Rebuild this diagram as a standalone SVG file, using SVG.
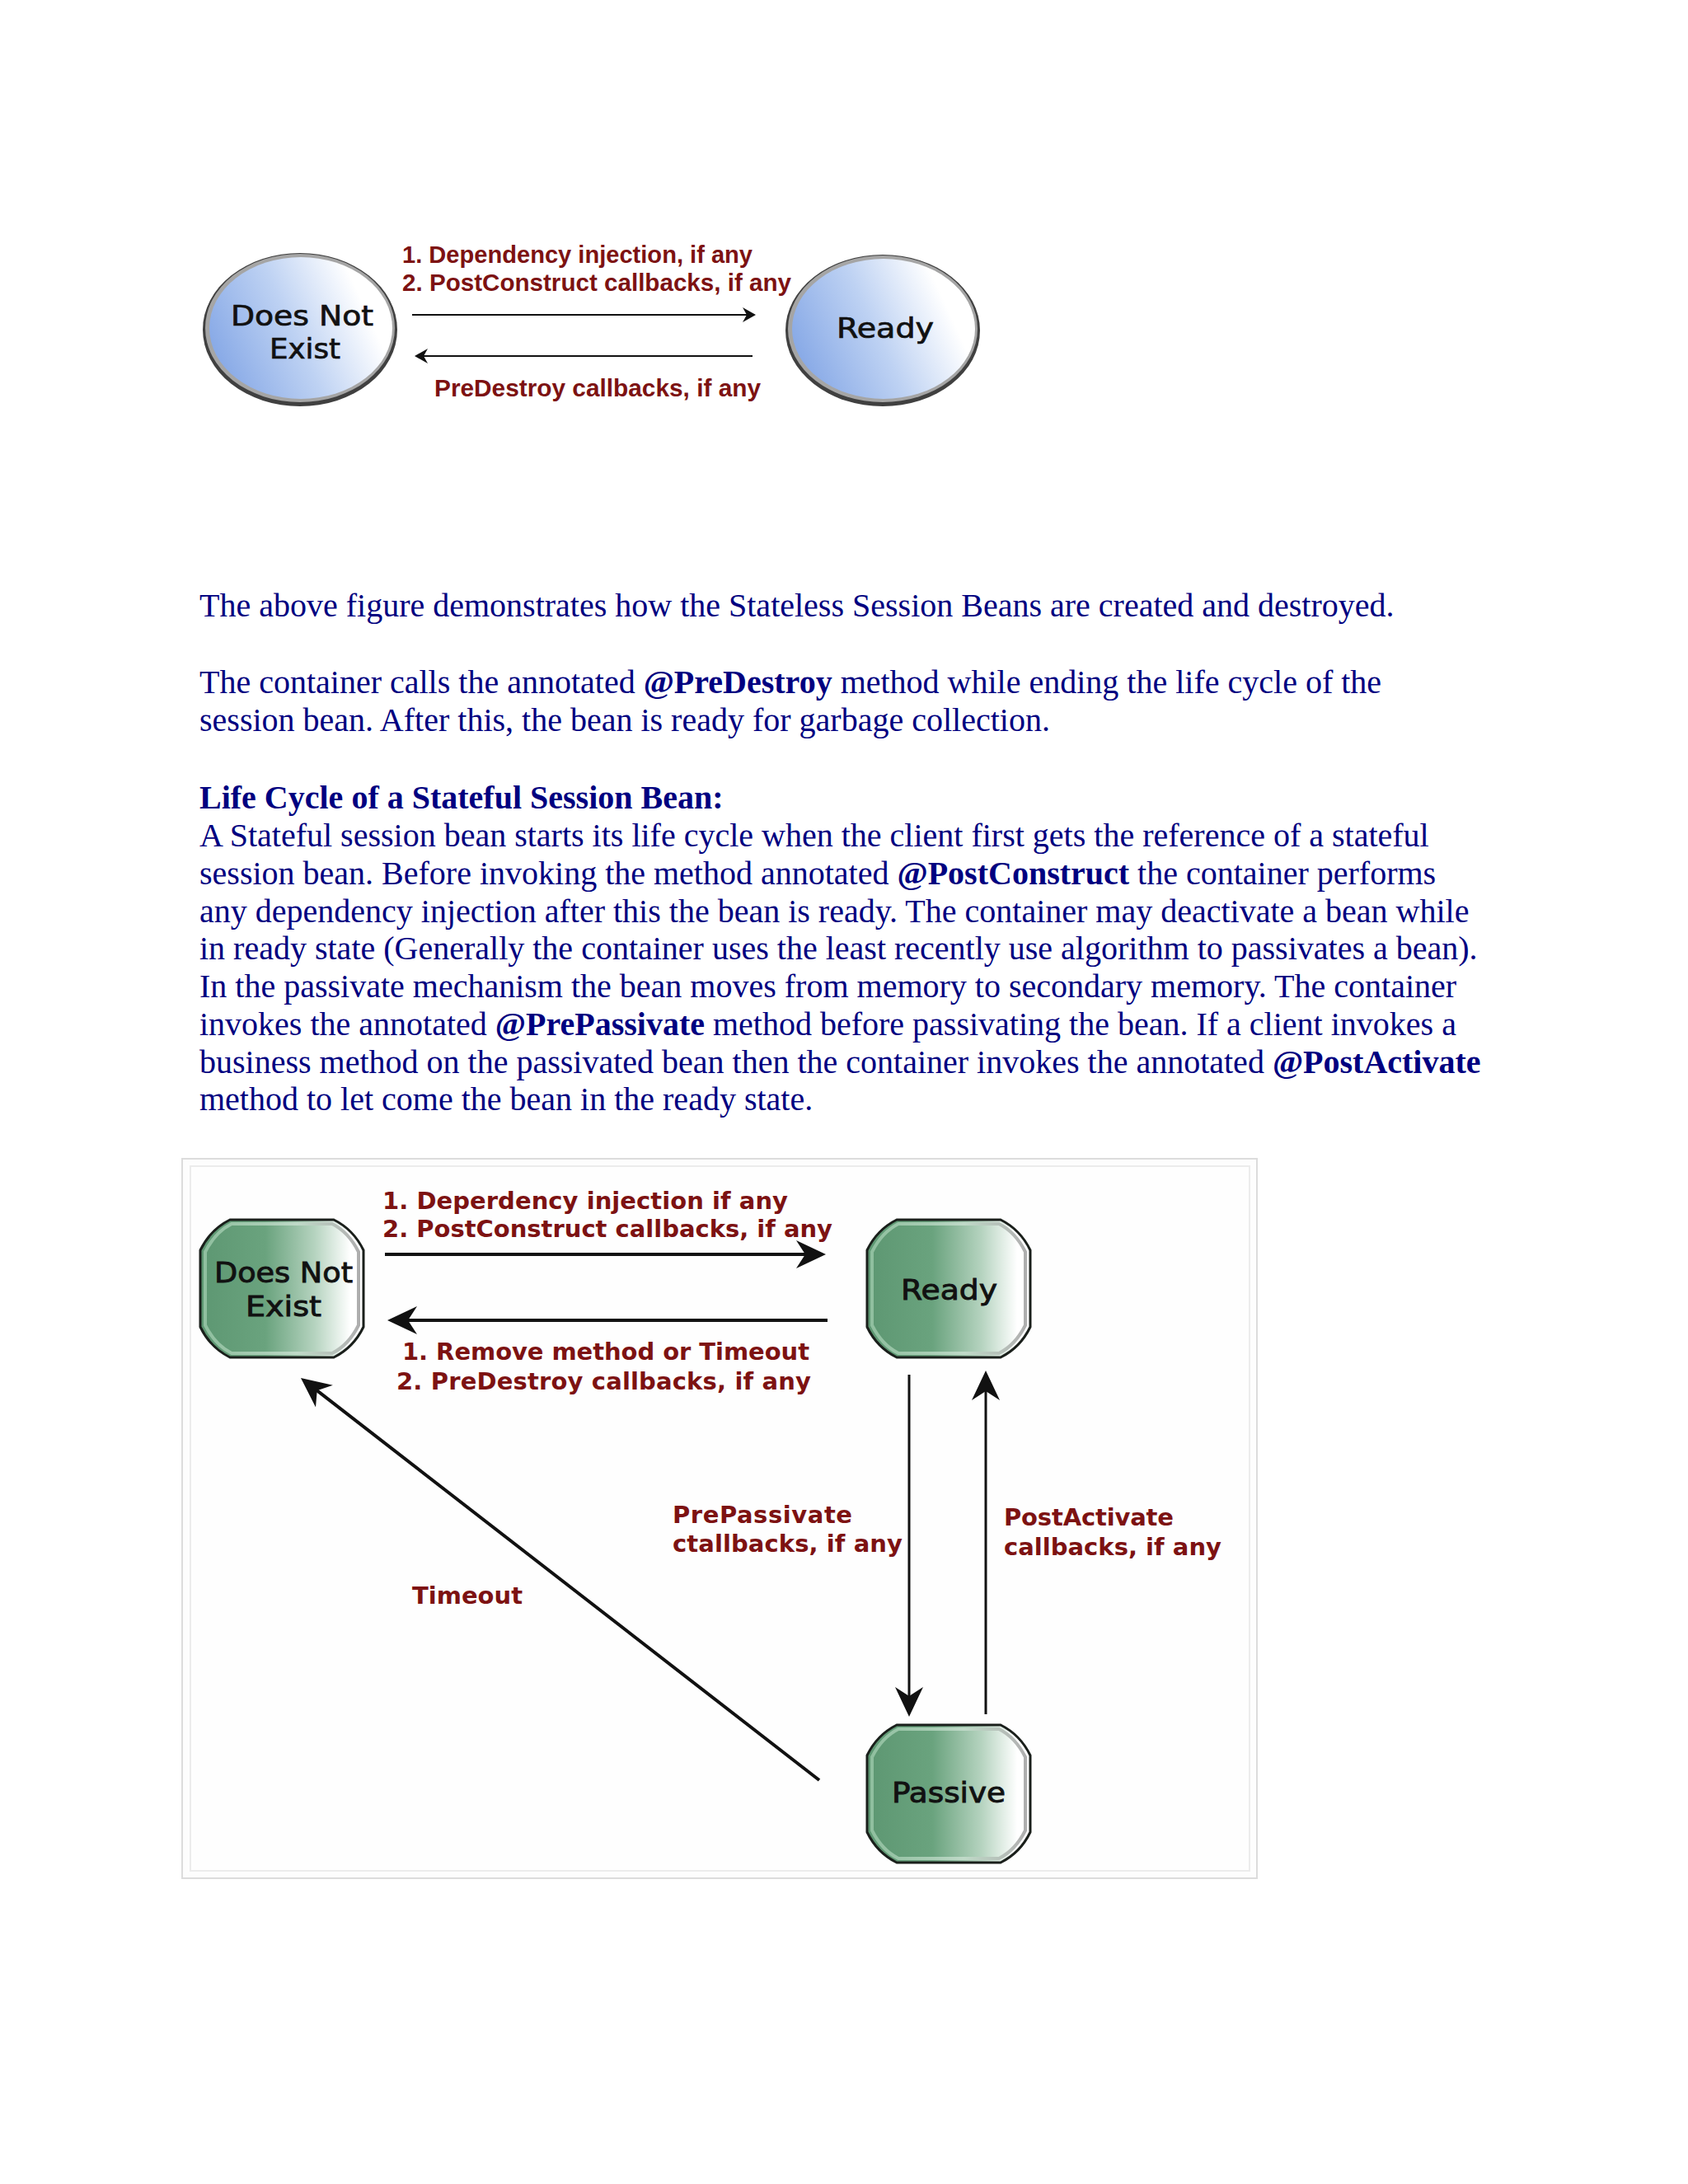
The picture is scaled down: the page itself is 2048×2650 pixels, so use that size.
<svg xmlns="http://www.w3.org/2000/svg" width="2048" height="2650" viewBox="0 0 2048 2650">
<style>
.para{font-family:"Liberation Serif","Times New Roman",serif;font-size:40px;fill:#000080}
.b{font-weight:bold}
.tlab{font-family:"Liberation Sans",Arial,sans-serif;font-weight:bold;font-size:29px;fill:#7d1212}
.blab{font-family:"DejaVu Sans",Verdana,sans-serif;font-weight:bold;font-size:29px;fill:#7d1212}
.node{font-family:"DejaVu Sans",Verdana,sans-serif;font-size:34px;fill:#111;stroke:#111;stroke-width:0.9}
.tnode{font-family:"DejaVu Sans",Verdana,sans-serif;font-size:33px;fill:#111;stroke:#111;stroke-width:0.7}
.thin{stroke:#111;stroke-width:2;fill:none}
.thick{stroke:#111;stroke-width:4;fill:none}
.med{stroke:#111;stroke-width:3;fill:none}
</style>
<defs>
<linearGradient id="blue" x1="0" y1="0.65" x2="1" y2="0.3">
<stop offset="0" stop-color="#86a8e6"/>
<stop offset="0.45" stop-color="#bed2f3"/>
<stop offset="0.85" stop-color="#ffffff"/>
</linearGradient>
<linearGradient id="green" x1="0" y1="0" x2="1" y2="0">
<stop offset="0" stop-color="#5d9772"/>
<stop offset="0.4" stop-color="#6aa37e"/>
<stop offset="0.7" stop-color="#b5d3bf"/>
<stop offset="0.92" stop-color="#ffffff"/>
</linearGradient>
<linearGradient id="bevel" x1="0" y1="0" x2="1" y2="0">
<stop offset="0" stop-color="#9cc9aa"/>
<stop offset="0.6" stop-color="#c9e0d0"/>
<stop offset="1" stop-color="#9a9a9a"/>
</linearGradient>
<path id="barrel" d="M36,0 H162 Q186,12 198,37 V130 Q186,155 162,167 H36 Q12,155 0,130 V37 Q12,12 36,0 Z"/>
<path id="barrelIn" d="M38,5 H160 Q180,15 192,39 V128 Q180,152 160,162 H38 Q18,152 6,128 V39 Q18,15 38,5 Z"/>
<marker id="big" markerUnits="userSpaceOnUse" markerWidth="36" markerHeight="34" refX="28" refY="17" orient="auto">
<path d="M36,17 L0,0 L11,17 L0,34 Z" fill="#111"/>
</marker>
<marker id="small" markerUnits="userSpaceOnUse" markerWidth="16" markerHeight="18" refX="12" refY="9" orient="auto">
<path d="M16,9 L0,0 L5,9 L0,18 Z" fill="#111"/>
</marker>
</defs>
<rect x="0" y="0" width="2048" height="2650" fill="#ffffff"/>

<!-- Top diagram -->
<g id="top-dne">
<ellipse cx="364" cy="400" rx="118" ry="93" fill="#404040"/>
<ellipse cx="364" cy="398" rx="115" ry="90" fill="#a5a5a5"/>
<ellipse cx="365" cy="398" rx="111" ry="86" fill="url(#blue)"/>
<text class="tnode" x="280" y="395" textLength="173" lengthAdjust="spacingAndGlyphs">Does Not</text>
<text class="tnode" x="327" y="435" textLength="86" lengthAdjust="spacingAndGlyphs">Exist</text>
</g>
<g id="top-ready">
<ellipse cx="1071" cy="401" rx="118" ry="92" fill="#404040"/>
<ellipse cx="1071" cy="399" rx="115" ry="89" fill="#a5a5a5"/>
<ellipse cx="1072" cy="399" rx="111" ry="85" fill="url(#blue)"/>
<text class="tnode" x="1015" y="410" textLength="118" lengthAdjust="spacingAndGlyphs">Ready</text>
</g>
<g id="top-connectors">
<line class="thin" x1="500" y1="382" x2="913" y2="382" marker-end="url(#small)"/>
<line class="thin" x1="913" y1="432" x2="507" y2="432" marker-end="url(#small)"/>
<text class="tlab" x="488" y="319" textLength="425" lengthAdjust="spacingAndGlyphs">1. Dependency injection, if any</text>
<text class="tlab" x="488" y="353" textLength="472" lengthAdjust="spacingAndGlyphs">2. PostConstruct callbacks, if any</text>
<text class="tlab" x="527" y="481" textLength="396" lengthAdjust="spacingAndGlyphs">PreDestroy callbacks, if any</text>
</g>

<!-- Paragraph text -->
<g id="paragraphs">
<text class="para" x="242" y="748">The above figure demonstrates how the Stateless Session Beans are created and destroyed.</text>
<text class="para" x="242" y="841">The container calls the annotated <tspan class="b">@PreDestroy</tspan> method while ending the life cycle of the</text>
<text class="para" x="242" y="887">session bean. After this, the bean is ready for garbage collection.</text>
<text class="para b" x="242" y="981">Life Cycle of a Stateful Session Bean:</text>
<text class="para" x="242" y="1027">A Stateful session bean starts its life cycle when the client first gets the reference of a stateful</text>
<text class="para" x="242" y="1073">session bean. Before invoking the method annotated <tspan class="b">@PostConstruct</tspan> the container performs</text>
<text class="para" x="242" y="1119">any dependency injection after this the bean is ready. The container may deactivate a bean while</text>
<text class="para" x="242" y="1164">in ready state (Generally the container uses the least recently use algorithm to passivates a bean).</text>
<text class="para" x="242" y="1210">In the passivate mechanism the bean moves from memory to secondary memory. The container</text>
<text class="para" x="242" y="1256">invokes the annotated <tspan class="b">@PrePassivate</tspan> method before passivating the bean. If a client invokes a</text>
<text class="para" x="242" y="1302">business method on the passivated bean then the container invokes the annotated <tspan class="b">@PostActivate</tspan></text>
<text class="para" x="242" y="1347">method to let come the bean in the ready state.</text>
</g>

<!-- Bottom diagram frame -->
<rect x="221" y="1406" width="1304" height="873" fill="#fdfdfd" stroke="#dcdcdc" stroke-width="2"/>
<rect x="231" y="1415" width="1285" height="855" fill="#fefefe" stroke="#ececec" stroke-width="2"/>

<g id="dne">
<g transform="translate(243,1480)">
<use href="#barrel" fill="url(#green)" stroke="#1a1f1b" stroke-width="3"/>
<use href="#barrelIn" fill="none" stroke="url(#bevel)" stroke-width="4" opacity="0.8"/>
</g>
<text class="node" x="260" y="1556" textLength="168" lengthAdjust="spacingAndGlyphs">Does Not</text>
<text class="node" x="298" y="1597" textLength="92" lengthAdjust="spacingAndGlyphs">Exist</text>
</g>
<g id="ready">
<g transform="translate(1052,1480)">
<use href="#barrel" fill="url(#green)" stroke="#1a1f1b" stroke-width="3"/>
<use href="#barrelIn" fill="none" stroke="url(#bevel)" stroke-width="4" opacity="0.8"/>
</g>
<text class="node" x="1093" y="1577" textLength="117" lengthAdjust="spacingAndGlyphs">Ready</text>
</g>
<g id="passive">
<g transform="translate(1052,2093)">
<use href="#barrel" fill="url(#green)" stroke="#1a1f1b" stroke-width="3"/>
<use href="#barrelIn" fill="none" stroke="url(#bevel)" stroke-width="4" opacity="0.8"/>
</g>
<text class="node" x="1082" y="2187" textLength="138" lengthAdjust="spacingAndGlyphs">Passive</text>
</g>

<g id="connectors">
<line class="thick" x1="467" y1="1522" x2="994" y2="1522" marker-end="url(#big)"/>
<line class="thick" x1="1004" y1="1602" x2="478" y2="1602" marker-end="url(#big)"/>
<line class="med" x1="1103" y1="1668" x2="1103" y2="2075" marker-end="url(#big)"/>
<line class="med" x1="1196" y1="2080" x2="1196" y2="1671" marker-end="url(#big)"/>
<line class="thick" x1="994" y1="2160" x2="371.3" y2="1676.9" marker-end="url(#big)"/>
<text class="blab" x="464" y="1467" textLength="492">1. Deperdency injection if any</text>
<text class="blab" x="464" y="1501" textLength="546">2. PostConstruct callbacks, if any</text>
<text class="blab" x="488" y="1650" textLength="494">1. Remove method or Timeout</text>
<text class="blab" x="481" y="1686" textLength="503">2. PreDestroy callbacks, if any</text>
<text class="blab" x="816" y="1848" textLength="218">PrePassivate</text>
<text class="blab" x="816" y="1883" textLength="279">ctallbacks, if any</text>
<text class="blab" x="1218" y="1851" textLength="206">PostActivate</text>
<text class="blab" x="1218" y="1887" textLength="264">callbacks, if any</text>
<text class="blab" x="500" y="1946" textLength="134">Timeout</text>
</g>
</svg>
